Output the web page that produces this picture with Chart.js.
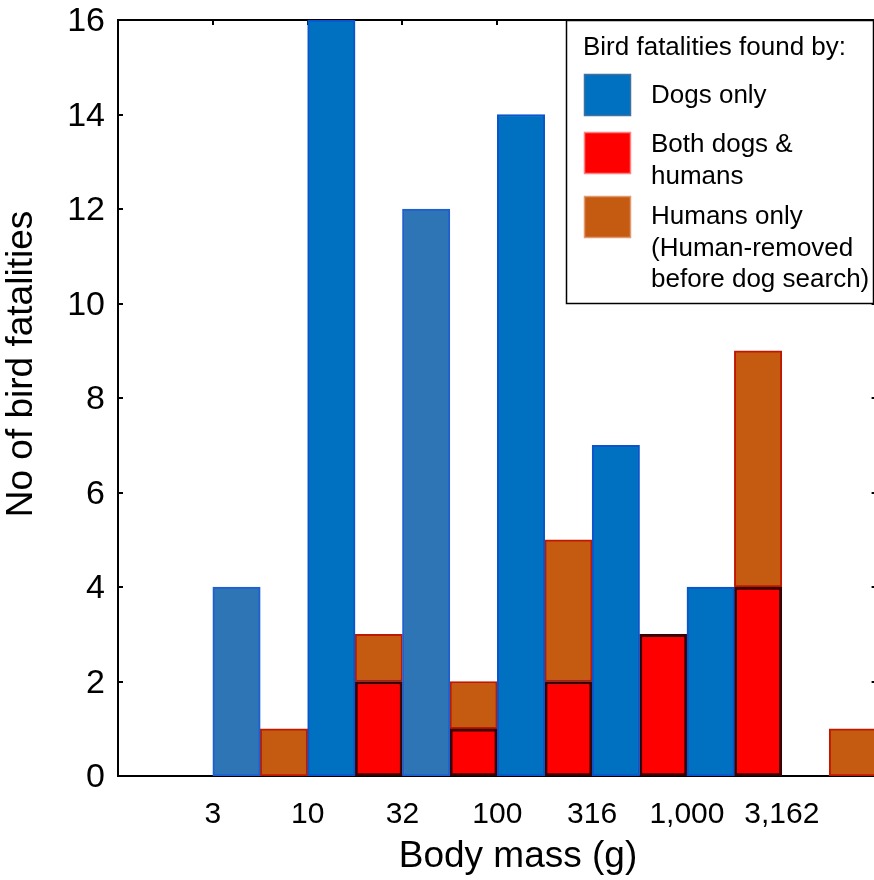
<!DOCTYPE html>
<html>
<head>
<meta charset="utf-8">
<script src="https://cdn.jsdelivr.net/npm/chart.js@4/dist/chart.umd.min.js"></script>
<style>
  html, body { margin: 0; padding: 0; background: #fff; overflow: hidden; }
  #wrap { width: 880px; height: 880px; }
</style>
</head>
<body>
<div id="wrap"><canvas id="c" width="880" height="880"></canvas></div>
<script>
// Half-decade body-mass bins (g). Each bin has a "dogs only" bar on the left
// and a stacked "both" + "humans only" bar on the right.
const massTickLabels  = ['', '3', '10', '32', '100', '316', '1,000', '3,162', ''];
const dogsOnly        = [0, 4, 16, 12, 14, 7, 4, 0];
const bothDogsHumans  = [0, 0, 2, 1, 2, 3, 4, 0];
const humansOnly      = [0, 1, 1, 1, 3, 0, 5, 1];
const seriesNames = [
  ['Dogs only'],
  ['Both dogs &', 'humans'],
  ['Humans only', '(Human-removed', 'before dog search)']
];
const legendTitle = 'Bird fatalities found by:';
const yTitle = 'No of bird fatalities';
const xTitle = 'Body mass (g)';

const FONT = "'Liberation Sans', Arial, Helvetica, sans-serif";

// two bars per bin: left slot for dogs, right slot for the stacked pair
const leftSlot  = (arr) => arr.map((v, i) => ({ x: 2 * i + 0.5, y: v }));
const rightSlot = (arr) => arr.map((v, i) => ({ x: 2 * i + 1.5, y: v }));

// two of the dog bars use the lighter steel blue
const dogFill = dogsOnly.map((_, i) => (i === 1 || i === 3) ? '#2E75B6' : '#0070C0');
const dogEdge = dogsOnly.map((_, i) => (i === 1 || i === 3) ? '#1F5FCF' : '#0A55CC');

const swatchEdges = ['#41719C', '#FF8080', '#E09A70'];

const framePlugin = {
  id: 'frame',
  beforeDatasetsDraw(chart) {
    const { ctx, chartArea: a, scales: { x, y } } = chart;
    ctx.save();
    ctx.strokeStyle = '#000';
    ctx.lineWidth = 2;
    ctx.beginPath();
    ctx.moveTo(a.left, a.top);
    ctx.lineTo(a.right, a.top);
    ctx.lineTo(a.right, a.bottom);
    ctx.stroke();
    // inward tick marks on left, right and top edges
    ctx.beginPath();
    y.ticks.forEach(t => {
      const py = Math.round(y.getPixelForValue(t.value));
      ctx.moveTo(a.left, py); ctx.lineTo(a.left + 5, py);
      ctx.moveTo(a.right, py); ctx.lineTo(a.right - 5, py);
    });
    x.ticks.forEach(t => {
      const px = Math.round(x.getPixelForValue(t.value));
      ctx.moveTo(px, a.top); ctx.lineTo(px, a.top + 5);
    });
    ctx.stroke();
    ctx.restore();
  },
  afterDraw(chart) {
    const { ctx } = chart;
    ctx.save();
    ctx.fillStyle = '#000';

    // axis titles
    ctx.font = `37px ${FONT}`;
    ctx.textAlign = 'center';
    ctx.textBaseline = 'alphabetic';
    ctx.fillText(xTitle, 518, 867);
    ctx.save();
    ctx.translate(32, 364);
    ctx.rotate(-Math.PI / 2);
    ctx.fillText(yTitle, 0, 0);
    ctx.restore();

    // legend box
    const bx = 566, by = 20, bw = 307, bh = 283;
    ctx.fillStyle = '#fff';
    ctx.fillRect(bx, by, bw, bh);
    ctx.strokeStyle = '#000';
    ctx.lineWidth = 1.5;
    ctx.strokeRect(bx + 0.5, by + 0.5, bw, bh);

    ctx.fillStyle = '#000';
    ctx.textAlign = 'left';
    ctx.font = `26px ${FONT}`;
    ctx.fillText(legendTitle, 583, 55);

    const swatchTops = [74, 132, 196];
    const firstBaselines = [103, 152, 224];
    const fills = ['#0070C0', '#FF0000', '#C55A11'];
    chart.data.datasets.forEach((ds, i) => {
      ctx.fillStyle = fills[i];
      ctx.fillRect(584, swatchTops[i], 47, 42);
      ctx.strokeStyle = swatchEdges[i];
      ctx.lineWidth = 1.5;
      ctx.strokeRect(584.5, swatchTops[i] + 0.5, 46, 41);
      ctx.fillStyle = '#000';
      seriesNames[i].forEach((line, k) => {
        ctx.fillText(line, 651, firstBaselines[i] + k * 31.5);
      });
    });
    ctx.restore();
  }
};

new Chart(document.getElementById('c'), {
  type: 'bar',
  data: {
    datasets: [
      {
        label: seriesNames[0].join(' '),
        data: leftSlot(dogsOnly),
        backgroundColor: dogFill,
        borderColor: dogEdge,
        borderWidth: 2,
        borderSkipped: false,
        stack: 'all'
      },
      {
        label: seriesNames[1].join(' '),
        data: rightSlot(bothDogsHumans),
        backgroundColor: '#FF0000',
        borderColor: '#3A0000',
        borderWidth: 3,
        borderSkipped: false,
        stack: 'all'
      },
      {
        label: seriesNames[2].join(' '),
        data: rightSlot(humansOnly),
        backgroundColor: '#C55A11',
        borderColor: '#C01800',
        borderWidth: 2,
        borderSkipped: false,
        stack: 'all'
      }
    ]
  },
  options: {
    responsive: false,
    animation: false,
    devicePixelRatio: 1,
    layout: { padding: { top: 20, left: 0, right: 3.4, bottom: 0 } },
    datasets: { bar: { barPercentage: 1, categoryPercentage: 1 } },
    plugins: { legend: { display: false }, tooltip: { enabled: false }, title: { display: false } },
    scales: {
      x: {
        type: 'linear',
        offset: false,
        min: 0,
        max: 16,
        grid: { display: false, drawTicks: false, offset: false },
        border: { display: true, color: '#000', width: 2 },
        ticks: {
          stepSize: 2,
          autoSkip: false,
          maxRotation: 0,
          padding: 21,
          color: '#000',
          font: { family: FONT, size: 30 },
          callback: (v) => massTickLabels[Math.round(v / 2)] ?? ''
        },
        afterFit: (s) => { s.height = 104; s.paddingLeft = 0; s.paddingRight = 0; }
      },
      y: {
        stacked: true,
        min: 0,
        max: 16,
        grid: { display: false, drawTicks: false },
        border: { display: true, color: '#000', width: 2 },
        ticks: {
          stepSize: 2,
          padding: 13,
          labelOffset: 2,
          color: '#000',
          font: { family: FONT, size: 34 }
        },
        afterFit: (s) => { s.width = 118; s.paddingTop = 0; s.paddingBottom = 0; }
      }
    }
  },
  plugins: [framePlugin]
});
</script>
</body>
</html>
